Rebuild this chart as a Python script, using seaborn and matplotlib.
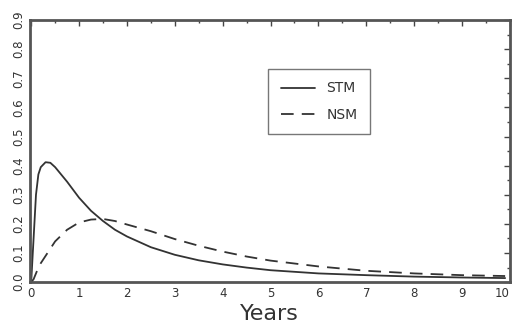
import pandas as pd
import matplotlib
matplotlib.use("Agg")
import matplotlib.pyplot as plt
import seaborn as sns
from matplotlib.ticker import MultipleLocator

# Values
years = [0, 0.05, 0.1, 0.15, 0.2, 0.3, 0.4, 0.5, 0.75, 1, 1.25, 1.5, 1.75,
         2, 2.5, 3, 3.5, 4, 4.5, 5, 6, 7, 8, 9, 9.9]
stm = [0, 0.15, 0.30, 0.37, 0.395, 0.412, 0.41, 0.395, 0.345, 0.29, 0.245,
       0.21, 0.18, 0.157, 0.12, 0.094, 0.075, 0.061, 0.05, 0.041, 0.03,
       0.024, 0.019, 0.016, 0.014]
nsm = [0, 0.01, 0.03, 0.05, 0.065, 0.09, 0.115, 0.14, 0.18, 0.205, 0.215,
       0.217, 0.21, 0.198, 0.175, 0.148, 0.125, 0.105, 0.088, 0.074, 0.054,
       0.039, 0.03, 0.024, 0.021]

df = pd.DataFrame({
    "Years": years * 2,
    "value": stm + nsm,
    "model": ["STM"] * len(years) + ["NSM"] * len(years),
})

sns.set_theme(style="white")
plt.rcParams["font.family"] = ["DejaVu Sans"]

fig = plt.figure(figsize=(5.13, 3.30), dpi=100)
ax = fig.add_axes([0.058, 0.145, 0.936, 0.794])

sns.lineplot(data=df, x="Years", y="value", style="model",
             dashes={"STM": "", "NSM": (7, 4.5)}, color="#333333",
             linewidth=1.3, ax=ax)

ax.set_xlim(-0.03, 10)
ax.set_ylim(0, 0.9)
ax.xaxis.set_major_locator(MultipleLocator(1))
ax.xaxis.set_minor_locator(MultipleLocator(0.5))
ax.yaxis.set_major_locator(MultipleLocator(0.1))
ax.yaxis.set_minor_locator(MultipleLocator(0.05))
ax.tick_params(which="both", direction="in", top=True, right=True,
               colors="#444444", labelcolor="#333333", labelsize=8.5)
ax.tick_params(which="major", length=4, width=1)
ax.tick_params(which="minor", length=2.5, width=1)
ax.set_yticks([i / 10 for i in range(10)])
ax.set_yticklabels([f"{i / 10:.1f}" for i in range(10)], rotation=90, va="center")
ax.set_xticks(range(11))
ax.set_xticklabels([str(i) for i in range(10)] + ["10"])
# the last label sits on the right edge, as in the reference; keep it inside
ax.get_xticklabels()[-1].set_ha("right")
for s in ax.spines.values():
    s.set_linewidth(2)
    s.set_color("#555555")

ax.set_xlabel("Years", fontsize=16, color="#333333", labelpad=3)
ax.set_ylabel("")

leg = ax.legend(title=None, loc="upper left", bbox_to_anchor=(0.482, 0.84),
                fontsize=10, frameon=True, fancybox=False, handlelength=2.5,
                borderpad=0.9, labelspacing=0.9)
leg.get_frame().set_edgecolor("#555555")
leg.get_frame().set_linewidth(1)
for t in leg.get_texts():
    t.set_color("#333333")

fig.savefig("out.png", dpi=100)
